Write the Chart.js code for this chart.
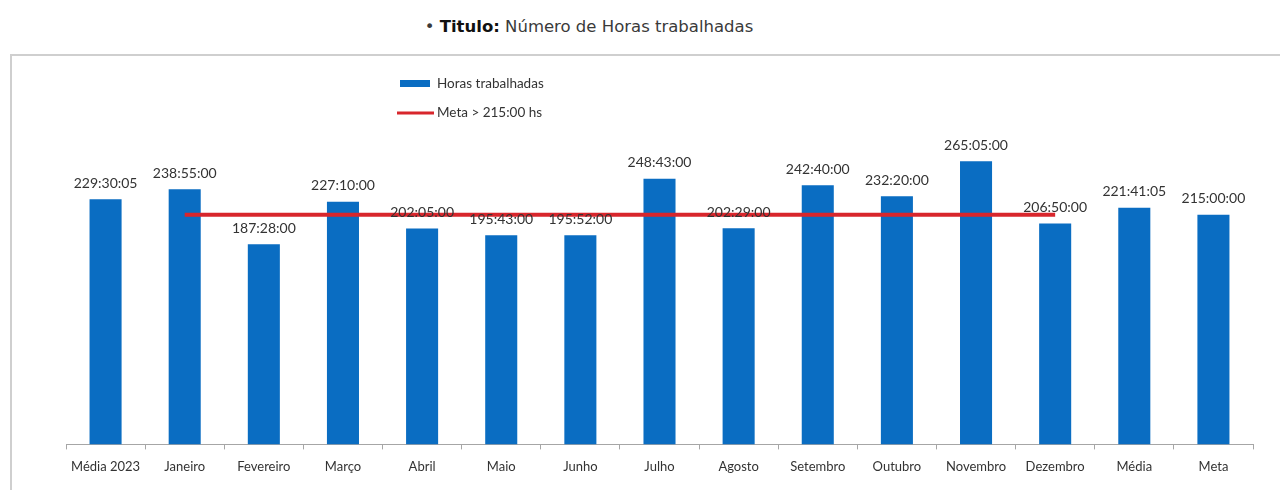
<!DOCTYPE html>
<html>
<head>
<meta charset="utf-8">
<script src="https://cdn.jsdelivr.net/npm/chart.js@4/dist/chart.umd.min.js"></script>
<style>
  html, body { margin: 0; padding: 0; background: #fff; width: 1280px; height: 490px; overflow: hidden; }
  #title { position: absolute; left: 0; width: 1178px; top: 17px; text-align: center; font-family: "DejaVu Sans", Verdana, sans-serif; font-size: 16.5px; color: #3a3a3a; }
  #title b { color: #111; }
  #frame { position: absolute; left: 10px; top: 54px; width: 1290px; height: 460px; border-top: 2px solid #cfcfcf; border-left: 2px solid #cfcfcf; box-sizing: border-box; }
  #wrap { position: absolute; left: 12px; top: 56px; width: 1268px; height: 434px; }
</style>
</head>
<body>
<div id="title">&bull; <b>Titulo:</b> Número de Horas trabalhadas</div>
<div id="frame"></div>
<div id="wrap"><canvas id="c"></canvas></div>
<script>
const categories = ["Média 2023","Janeiro","Fevereiro","Março","Abril","Maio","Junho","Julho","Agosto","Setembro","Outubro","Novembro","Dezembro","Média","Meta"];
const hoursText = ["229:30:05","238:55:00","187:28:00","227:10:00","202:05:00","195:43:00","195:52:00","248:43:00","202:29:00","242:40:00","232:20:00","265:05:00","206:50:00","221:41:05","215:00:00"];
const metaLine = [null,215,215,215,215,215,215,215,215,215,215,215,215,null,null];
const barLabel = "Horas trabalhadas";
const lineLabel = "Meta > 215:00 hs";

function toHours(t){ const p = t.split(":").map(Number); return p[0] + p[1]/60 + p[2]/3600; }
const hoursValues = hoursText.map(toHours);

const BLUE = "#0a6dc2";
const RED = "#d8262c";
const FONT = "Lato, 'Open Sans', sans-serif";

const labelPlugin = {
  id: "barLabels",
  afterDatasetsDraw(chart) {
    const ctx = chart.ctx;
    const meta = chart.getDatasetMeta(1);
    ctx.save();
    ctx.font = "14px " + FONT;
    ctx.fillStyle = "#333";
    ctx.textAlign = "center";
    ctx.textBaseline = "middle";
    meta.data.forEach((el, i) => {
      ctx.fillText(hoursText[i], el.x, el.y - 16);
    });
    ctx.restore();
  }
};

const legendPlugin = {
  id: "customLegend",
  afterDraw(chart) {
    const ctx = chart.ctx;
    const ds = chart.data.datasets;
    ctx.save();
    ctx.font = "13.5px " + FONT;
    ctx.textBaseline = "middle";
    ctx.fillStyle = ds[1].backgroundColor;
    ctx.fillRect(388, 24, 30, 7);
    ctx.fillStyle = "#333";
    ctx.fillText(ds[1].label, 425, 28);
    ctx.strokeStyle = ds[0].borderColor;
    ctx.lineWidth = 3;
    ctx.beginPath(); ctx.moveTo(385, 57); ctx.lineTo(422, 57); ctx.stroke();
    ctx.fillText(ds[0].label, 425, 57);
    ctx.restore();
  }
};

new Chart(document.getElementById("c"), {
  type: "bar",
  data: {
    labels: categories,
    datasets: [
      { type: "line", label: lineLabel, data: metaLine, borderColor: RED, backgroundColor: RED, borderWidth: 4, pointRadius: 0, pointHoverRadius: 0, spanGaps: false, order: 0 },
      { type: "bar", label: barLabel, data: hoursValues, backgroundColor: BLUE, borderWidth: 0, barPercentage: 0.81, categoryPercentage: 0.5, order: 1 }
    ]
  },
  options: {
    responsive: true,
    maintainAspectRatio: false,
    animation: false,
    layout: { padding: { left: 54, right: 27, top: 68, bottom: 5 } },
    plugins: { legend: { display: false }, tooltip: { enabled: false } },
    scales: {
      x: {
        offset: true,
        grid: { display: true, drawOnChartArea: false, color: "#a6a6a6", tickLength: 5, offset: true },
        border: { display: true, color: "#a6a6a6", width: 1 },
        ticks: { color: "#333", font: { family: FONT, size: 13 }, padding: 10, maxRotation: 0, autoSkip: false }
      },
      y: { display: false, min: 0, max: 300 }
    }
  },
  plugins: [labelPlugin, legendPlugin]
});
</script>
</body>
</html>
